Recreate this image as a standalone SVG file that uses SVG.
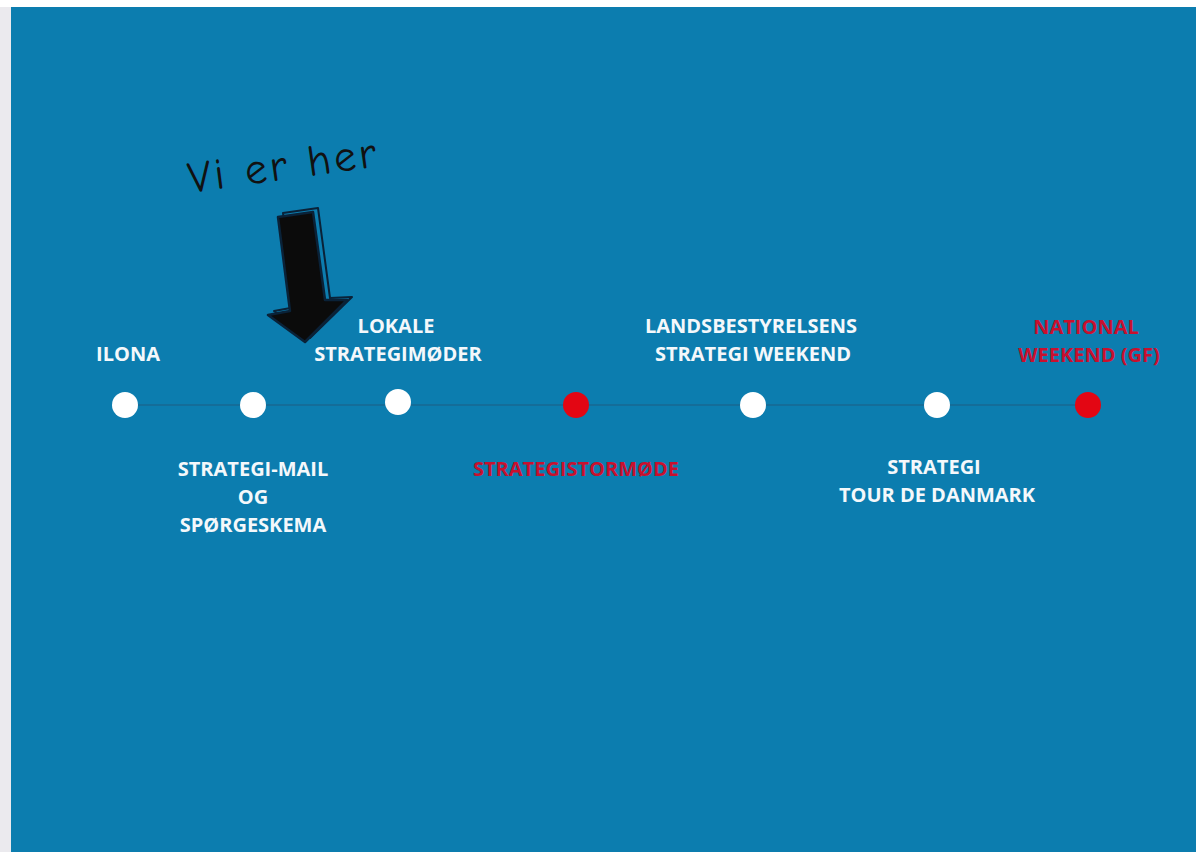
<svg xmlns="http://www.w3.org/2000/svg" width="1196" height="852" viewBox="0 0 1196 852">
<style>
.lbl{font-family:"Open Sans","Liberation Sans",sans-serif;font-weight:700;font-size:20px;fill:#f4f8fb;text-anchor:middle}
.red{fill:#c8102e}
.dot{fill:#ffffff}
.rdot{fill:#e30613}
.hand{font-family:"Comic Neue","DejaVu Sans",sans-serif;font-size:44px;letter-spacing:3px;fill:#111111}
</style>
<rect x="0" y="0" width="1196" height="852" fill="#ffffff"/>
<rect x="0" y="7" width="11" height="845" fill="#ebeaee"/>
<rect x="11" y="7" width="1185" height="845" fill="#0c7daf"/>
<g id="connectors">
<line x1="125" y1="405" x2="1088" y2="405" stroke="#176992" stroke-width="1.5"/>
</g>
<g id="here">
<text class="hand" x="190" y="193" transform="rotate(-8 190 193)">Vi er her</text>
<polygon points="283,213 318,208 330,298 352,297 310,338 274,311 296,307" fill="#0c7daf" stroke="#0a2238" stroke-width="2" stroke-linejoin="round"/>
<polygon points="278,217 313,212 325,300 347,300 305,342 268,315 290,311" fill="#0b0b0b" stroke="#0a2238" stroke-width="2.5" stroke-linejoin="round"/>
</g>
<g id="n1"><circle class="dot" cx="125" cy="405" r="13"/><text class="lbl" x="128" y="361">ILONA</text></g>
<g id="n2"><circle class="dot" cx="253" cy="405" r="13"/><text class="lbl" x="253" y="476">STRATEGI-MAIL</text><text class="lbl" x="253" y="504">OG</text><text class="lbl" x="253" y="532">SPØRGESKEMA</text></g>
<g id="n3"><circle class="dot" cx="398" cy="402" r="13"/><text class="lbl" x="396" y="333">LOKALE</text><text class="lbl" x="398" y="361">STRATEGIMØDER</text></g>
<g id="n4"><circle class="rdot" cx="576" cy="405" r="13"/><text class="lbl red" x="576" y="476">STRATEGISTORMØDE</text></g>
<g id="n5"><circle class="dot" cx="753" cy="405" r="13"/><text class="lbl" x="751" y="333">LANDSBESTYRELSENS</text><text class="lbl" x="753" y="361">STRATEGI WEEKEND</text></g>
<g id="n6"><circle class="dot" cx="937" cy="405" r="13"/><text class="lbl" x="934" y="474">STRATEGI</text><text class="lbl" x="937" y="502">TOUR DE DANMARK</text></g>
<g id="n7"><circle class="rdot" cx="1088" cy="405" r="13"/><text class="lbl red" x="1086" y="334">NATIONAL</text><text class="lbl red" x="1089" y="362">WEEKEND (GF)</text></g>
</svg>
